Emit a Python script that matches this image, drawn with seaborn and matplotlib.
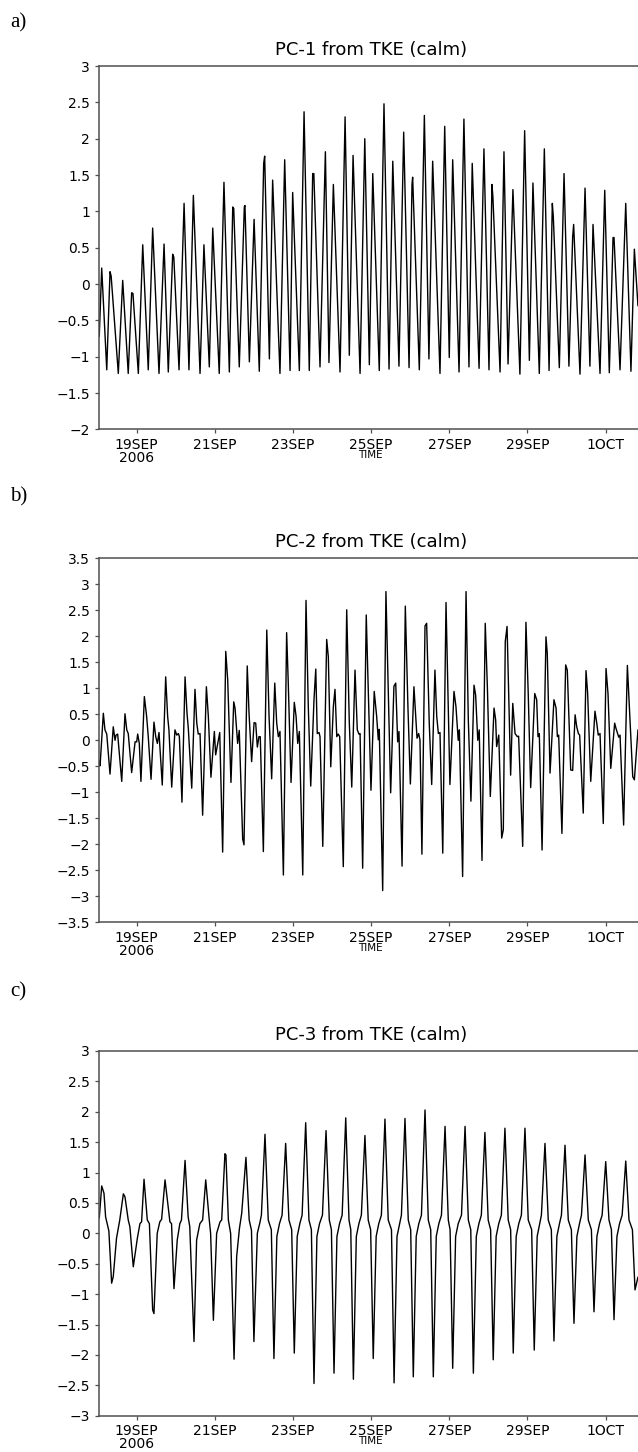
import numpy as np
import pandas as pd
import matplotlib
matplotlib.use("Agg")
import matplotlib.pyplot as plt
import seaborn as sns
from matplotlib.ticker import FuncFormatter

# ---------------- data (time in hours since 18 SEP 2006 00Z) ----------------
pc1_hours = [1.0, 2.5, 5.6, 7.6, 8.3, 12.7, 15.4, 18.8, 20.9, 21.7, 25.0, 27.7, 31.1, 33.8, 37.7,
             40.8, 43.4, 46.1, 46.8, 50.0, 53.1, 56.1, 58.8, 62.9, 65.3, 68.6, 70.7, 74.7, 77.6,
             80.9, 83.0, 83.6, 87.0, 90.1, 90.5, 93.2, 96.1, 99.3, 102.0, 102.6, 105.5, 107.5,
             112.0, 114.9, 118.2, 119.8, 123.9, 126.8, 130.0, 132.1, 132.8, 136.6, 139.9, 142.1,
             144.8, 148.9, 152.0, 154.6, 156.9, 161.2, 164.1, 166.9, 169.0, 173.0, 175.9, 179.0,
             181.3, 185.1, 188.0, 191.3, 193.1, 193.5, 197.6, 200.7, 203.5, 205.8, 210.3, 213.2,
             216.0, 218.1, 222.0, 225.0, 228.1, 230.1, 234.3, 237.3, 240.4, 242.2, 242.8, 247.2,
             249.6, 252.1, 255.1, 259.4, 262.3, 265.2, 267.4, 271.3, 274.4, 277.3, 279.3, 279.9,
             283.6, 286.5, 289.5, 291.8, 292.4, 296.3, 299.4, 302.4, 304.3, 308.6, 311.5, 314.3,
             316.6, 317.2, 320.9, 324.4, 327.6, 329.7, 331.9]
pc1_values = [-0.72, 0.22, -1.18, 0.17, 0.11, -1.23, 0.05, -1.23, -0.12, -0.13, -1.23, 0.54, -1.18, 0.77, -1.23,
              0.55, -1.21, 0.41, 0.37, -1.18, 1.11, -1.18, 1.22, -1.23, 0.54, -1.14, 0.77, -1.23, 1.40,
              -1.21, 1.06, 1.04, -1.14, 1.06, 1.08, -1.07, 0.89, -1.20, 1.66, 1.76, -1.03, 1.43,
              -1.23, 1.71, -1.19, 1.26, -1.19, 2.37, -1.19, 1.52, 1.52, -1.14, 1.82, -1.08,
              1.37, -1.21, 2.30, -0.98, 1.77, -1.23, 2.00, -1.11, 1.52, -1.19, 2.48, -1.17,
              1.69, -1.13, 2.09, -1.15, 1.37, 1.47, -1.18, 2.32, -1.03, 1.69, -1.23, 2.17,
              -1.01, 1.71, -1.21, 2.27, -1.14, 1.66, -1.16, 1.86, -1.18, 1.37, 1.20, -1.21,
              1.82, -1.10, 1.30, -1.24, 2.11, -1.05, 1.39, -1.23, 1.86, -1.19, 1.11, 0.93,
              -1.15, 1.52, -1.13, 0.65, 0.82, -1.24, 1.32, -1.13, 0.82, -1.23, 1.29, -1.22,
              0.64, 0.64, -1.18, 1.11, -1.20, 0.48, -0.30]

pc2_hours = [1.0, 1.5, 3.5, 4.5, 5.6, 7.6, 9.6, 10.7, 11.3, 12.3, 14.8, 16.8, 17.9, 18.8, 20.9,
             23.0, 24.0, 24.6, 25.6, 26.6, 28.7, 30.1, 31.1, 32.8, 34.6, 35.7, 36.7, 37.7, 39.7,
             41.8, 43.0, 43.8, 45.5, 47.5, 48.6, 49.6, 50.2, 51.8, 53.7, 54.9, 55.7, 57.8, 59.8,
             60.9, 61.8, 62.9, 64.5, 66.8, 68.0, 69.6, 71.7, 72.5, 73.8, 75.0, 76.8, 78.7, 79.9,
             81.9, 83.6, 84.4, 86.0, 87.0, 89.1, 89.9, 91.9, 93.0, 94.6, 96.1, 97.1, 98.1, 99.1,
             99.9, 101.8, 103.9, 105.3, 106.9, 108.8, 110.0, 111.0, 112.0, 114.1, 116.1, 117.1,
             118.8, 120.8, 121.9, 122.9, 123.9, 126.0, 128.0, 129.4, 130.9, 132.9, 134.0, 134.9,
             136.0, 136.6, 138.3, 140.7, 141.7, 143.2, 144.8, 145.8, 146.9, 147.8, 148.7, 150.9,
             153.0, 154.6, 156.1, 158.1, 159.5, 160.5, 161.2, 162.8, 165.0, 166.5, 167.9, 169.9,
             171.4, 172.4, 173.0, 175.1, 177.1, 178.5, 180.0, 182.0, 183.1, 184.3, 185.1, 187.0,
             189.0, 190.6, 192.1, 194.3, 195.4, 196.2, 197.2, 198.0, 199.2, 201.1, 202.1, 203.7,
             205.2, 207.2, 208.3, 209.3, 210.3, 212.0, 214.0, 216.4, 218.9, 220.1, 221.5, 222.2,
             224.2, 226.3, 227.7, 229.3, 231.2, 232.2, 233.5, 234.4, 236.1, 238.1, 239.4, 241.2,
             243.5, 244.5, 245.1, 246.4, 248.2, 249.2, 250.4, 251.5, 252.7, 253.7, 255.0, 256.4,
             257.8, 258.6, 261.1, 263.1, 264.5, 266.0, 268.5, 269.7, 270.5, 271.3, 273.0, 275.4,
             276.2, 277.9, 280.3, 281.6, 282.4, 283.2, 285.2, 287.5, 288.5, 290.6, 291.8, 293.3,
             294.3, 295.3, 296.1, 298.3, 300.0, 301.0, 302.9, 305.5, 306.6, 307.5, 308.6, 310.6,
             312.3, 313.5, 315.2, 317.6, 318.4, 320.1, 320.9, 323.1, 325.4, 326.6, 328.7, 329.7,
             331.9]
pc2_values = [-0.40, -0.49, 0.52, 0.20, 0.12, -0.65, 0.26, 0.00, 0.10, 0.12, -0.79, 0.51, 0.20, 0.13, -0.62,
              -0.03, -0.03, 0.12, -0.06, -0.79, 0.84, 0.46, 0.07, -0.75, 0.35, 0.07, -0.06, 0.15, -0.86,
              1.22, 0.46, 0.20, -0.90, 0.20, 0.10, 0.13, 0.07, -1.19, 1.22, 0.52, 0.23, -0.92, 0.98,
              0.33, 0.12, 0.13, -1.44, 1.03, 0.46, -0.71, 0.17, -0.28, -0.06, 0.15, -2.15, 1.71, 1.16,
              -0.81, 0.74, 0.62, -0.06, 0.19, -1.90, -2.01, 1.43, 0.52, -0.41, 0.34, 0.33, -0.13, 0.07,
              0.07, -2.14, 2.12, 0.46, -0.74, 1.10, 0.33, 0.07, 0.17, -2.59, 2.07, 1.10,
              -0.81, 0.73, 0.46, -0.06, 0.17, -2.59, 2.69, 0.65, -0.88, 0.78, 1.37, 0.13,
              0.15, 0.07, -2.04, 1.94, 1.61, -0.51, 0.65, 0.98, 0.07, 0.12, 0.07, -2.43,
              2.51, 0.33, -0.90, 1.35, 0.20, 0.12, 0.13, -2.46, 2.41, 0.65, -0.96, 0.94,
              0.46, 0.01, 0.21, -2.89, 2.86, 0.97, -1.01, 1.04, 1.10, -0.03, 0.17, -2.42,
              2.58, 0.65, -0.84, 1.03, 0.46, 0.04, 0.13, 0.01, -2.19, 2.20, 2.25, 0.33,
              -0.85, 1.35, 0.46, 0.13, 0.15, -2.17, 2.65, -0.85, 0.94, 0.65, 0.00, 0.20,
              -2.62, 2.86, 0.39, -1.17, 1.06, 0.87, 0.00, 0.20, -2.31, 2.25, 1.03, -1.08,
              0.62, 0.39, -0.12, 0.10, -1.88, -1.72, 1.90, 2.19, 0.65, -0.67, 0.71, 0.13,
              0.07, 0.08, -2.04, 2.27, 0.90, -0.91, 0.90, 0.78, 0.07, 0.13, -2.11, 1.99,
              1.67, -0.63, 0.78, 0.62, 0.07, 0.10, -1.79, 1.45, 1.35, -0.57, -0.58, 0.49,
              0.26, 0.13, 0.10, -1.40, 1.34, 0.90, -0.79, 0.56, 0.33, 0.10, 0.13, -1.60,
              1.38, 0.90, -0.54, 0.33, 0.23, 0.06, 0.10, -1.63, 1.44, 0.65, -0.70, -0.76,
              0.20]

pc3_hours = [1.0, 2.5, 3.9, 4.9, 6.9, 8.6, 9.6, 11.6, 13.6, 15.8, 16.8, 18.8, 19.8, 21.9, 24.4,
             26.0, 27.0, 28.5, 30.5, 31.8, 33.8, 34.6, 36.6, 38.2, 39.3, 41.4, 44.4, 45.4, 46.9,
             48.9, 50.5, 51.5, 53.7, 55.6, 56.6, 59.2, 60.8, 62.8, 64.5, 66.4, 68.4, 69.4, 71.1,
             73.1, 75.2, 76.2, 78.2, 78.8, 80.3, 81.7, 83.8, 85.4, 87.1, 88.5, 91.1, 93.1, 94.5,
             96.0, 98.1, 99.7, 100.6, 102.8,
             104.8, 106.7, 108.3, 110.1, 111.7, 113.3, 115.5,
             117.5, 119.2, 120.8, 122.6, 124.2, 125.6, 127.8,
             129.8, 131.3, 132.9, 134.7, 136.3, 138.1, 140.3,
             142.3, 143.6, 145.2, 147.0, 148.6, 150.2, 152.4,
             154.4, 155.5, 157.1, 158.9, 160.5, 162.0, 164.2,
             166.2, 167.7, 169.3, 171.1, 172.7, 174.3, 176.5,
             178.5, 180.5, 182.1, 183.9, 185.5, 186.6, 188.8,
             190.8, 192.3, 193.9, 195.7, 197.3, 198.9, 201.1,
             203.1, 204.6, 206.2, 208.0, 209.6, 211.2, 213.4,
             215.4, 216.5, 218.1, 219.9, 221.5, 223.5, 225.7,
             227.7, 229.2, 230.8, 232.6, 234.2, 235.7, 237.9,
             239.9, 241.4, 243.0, 244.8, 246.4, 248.0, 250.2,
             252.2, 253.7, 255.3, 257.1, 258.7, 260.3, 262.5,
             264.5, 266.6, 268.2, 270.0, 271.6, 272.6, 274.8,
             276.8, 278.7, 280.3, 282.1, 283.7, 284.9, 287.1,
             289.1, 291.0, 292.6, 294.4, 296.0, 297.2, 299.4,
             301.4, 303.3, 304.9, 306.7, 308.3, 309.9, 312.1,
             314.1, 315.6, 317.2, 319.0, 320.6, 322.2, 324.4,
             326.4, 328.5, 330.1, 331.9]
pc3_values = [0.25, 0.78, 0.66, 0.27, 0.04, -0.82, -0.71, -0.08, 0.22, 0.65, 0.60, 0.22, 0.11, -0.55, -0.08,
              0.16, 0.19, 0.89, 0.22, 0.16, -1.26, -1.32, 0.00, 0.19, 0.23, 0.88, 0.19, 0.16, -0.91,
              -0.11, 0.16, 0.22, 1.20, 0.27, 0.11, -1.78, -0.11, 0.16, 0.22, 0.88, 0.27, 0.00, -1.43,
              0.00, 0.19, 0.22, 1.31, 1.29, 0.22, 0.00, -2.07, -0.38, 0.08, 0.33, 1.25, 0.22, 0.05,
              -1.78, 0.00, 0.18, 0.30, 1.63,
              0.22, 0.06, -2.06, -0.05, 0.16, 0.30, 1.48,
              0.22, 0.06, -1.97, -0.05, 0.16, 0.30, 1.82,
              0.22, 0.06, -2.47, -0.05, 0.16, 0.30, 1.69,
              0.22, 0.06, -2.30, -0.05, 0.16, 0.30, 1.90,
              0.22, 0.06, -2.40, -0.05, 0.16, 0.30, 1.61,
              0.22, 0.06, -2.06, -0.05, 0.16, 0.30, 1.88,
              0.22, 0.06, -2.46, -0.05, 0.16, 0.30, 1.89,
              0.22, 0.06, -2.36, -0.05, 0.16, 0.30, 2.03,
              0.22, 0.06, -2.36, -0.05, 0.16, 0.30, 1.76,
              0.22, 0.06, -2.22, -0.05, 0.16, 0.30, 1.76,
              0.22, 0.06, -2.30, -0.05, 0.16, 0.30, 1.66,
              0.22, 0.06, -2.08, -0.05, 0.16, 0.30, 1.73,
              0.22, 0.06, -1.97, -0.05, 0.16, 0.30, 1.73,
              0.22, 0.06, -1.92, -0.05, 0.16, 0.30, 1.48,
              0.22, 0.06, -1.77, -0.05, 0.16, 0.30, 1.45,
              0.22, 0.06, -1.48, -0.05, 0.16, 0.30, 1.29,
              0.22, 0.06, -1.29, -0.05, 0.16, 0.30, 1.18,
              0.22, 0.06, -1.42, -0.05, 0.16, 0.30, 1.19,
              0.22, 0.06, -0.93, -0.72]

date_tick_hours = [24, 72, 120, 168, 216, 264, 312]
date_tick_labels = ["19SEP\n2006", "21SEP", "23SEP", "25SEP", "27SEP", "29SEP", "1OCT"]
titles = ["PC-1 from TKE (calm)", "PC-2 from TKE (calm)", "PC-3 from TKE (calm)"]
panel_labels = ["a)", "b)", "c)"]
y_limits = [(-2.0, 3.0), (-3.5, 3.5), (-3.0, 3.0)]
axis_title = "TIME"

# ---------------- layout ----------------
sns.set_style("ticks")
plt.rcParams['font.family'] = ['DejaVu Sans']
plt.rcParams['text.color'] = 'black'
plt.rcParams['xtick.labelcolor'] = 'black'
plt.rcParams['ytick.labelcolor'] = 'black'

W, H = 638, 1452
fig = plt.figure(figsize=(W / 100, H / 100), dpi=100)

def rect(top, bottom, left=99.0, right=638.6):
    return [left / W, 1 - bottom / H, (right - left) / W, (bottom - top) / H]

panel_px = [(66.0, 429.4), (558.3, 922.3), (1051.0, 1415.7)]
label_y_px = [23, 497, 992]
spine_col = "#505050"

series = [(pc1_hours, pc1_values), (pc2_hours, pc2_values), (pc3_hours, pc3_values)]
fmt = FuncFormatter(lambda v, _: ("%g" % v).replace("-", "\u2212"))

for i, ((hrs, vals), (top, bot)) in enumerate(zip(series, panel_px)):
    ax = fig.add_axes(rect(top, bot))
    df = pd.DataFrame({"hour": hrs, "value": vals})
    sns.lineplot(data=df, x="hour", y="value", ax=ax, color="black",
                 linewidth=1.0, estimator=None, sort=False)
    ax.set_xlim(0.84, 332.3)
    lo, hi = y_limits[i]
    ax.set_ylim(lo, hi)
    ax.set_yticks(np.arange(lo, hi + 0.01, 0.5))
    ax.yaxis.set_major_formatter(fmt)
    ax.set_xticks(date_tick_hours)
    ax.set_xticklabels(date_tick_labels)
    for lbl in ax.get_xticklabels():
        lbl.set_linespacing(0.95)
    ax.set_xlabel("")
    ax.set_ylabel("")
    ax.tick_params(axis="y", direction="out", length=3, width=0.9, pad=3.5,
                   labelsize=10, color=spine_col, labelcolor="black")
    ax.tick_params(axis="x", direction="out", length=3, width=0.9, pad=3.0,
                   labelsize=10, color=spine_col, labelcolor="black")
    for s in ["left", "top", "bottom"]:
        ax.spines[s].set_color(spine_col)
        ax.spines[s].set_linewidth(1.1)
    ax.spines["right"].set_visible(False)
    ax.grid(False)

    fig.text(371.5 / W, 1 - (top - 11) / H, titles[i], ha="center",
             va="baseline", fontsize=13, color="black")
    fig.text(370 / W, 1 - (bot + 20.5) / H, axis_title, ha="center",
             va="top", fontsize=7.5, color="black")
    fig.text(10 / W, 1 - label_y_px[i] / H, panel_labels[i], ha="left",
             va="center", fontsize=15, color="black",
             family=["Liberation Serif", "DejaVu Serif"])

fig.savefig("out.png", dpi=100)
